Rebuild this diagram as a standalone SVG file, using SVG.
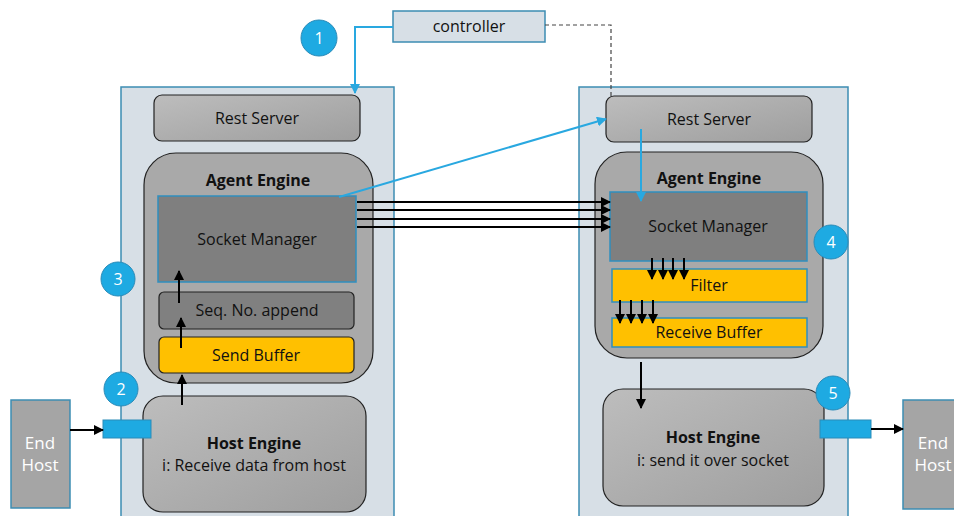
<svg xmlns="http://www.w3.org/2000/svg" width="954" height="516" viewBox="0 0 954 516">
  <defs>
    <linearGradient id="grey" x1="0" y1="0" x2="1" y2="1">
      <stop offset="0" stop-color="#bdbdbd"/>
      <stop offset="1" stop-color="#9e9e9e"/>
    </linearGradient>
    <marker id="ah" viewBox="0 0 10 10" refX="9" refY="5" markerWidth="5" markerHeight="5" orient="auto">
      <path d="M0,0 L10,5 L0,10 z" fill="#000"/>
    </marker>
    <marker id="ahb" viewBox="0 0 10 10" refX="9" refY="5" markerWidth="5" markerHeight="5" orient="auto">
      <path d="M0,0 L10,5 L0,10 z" fill="#29a8e0"/>
    </marker>
    <style>
      text { font-family: "Open Sans", "Liberation Sans", sans-serif; font-size: 16px; fill: #111; text-anchor: middle; }
      .b { font-weight: bold; }
      .w { fill: #fff; font-size: 17px; }
      .cont { fill: #d7dfe6; stroke: #3d8db3; stroke-width: 1.5; }
      .g { fill: url(#grey); stroke: #222; stroke-width: 1.2; }
      .ae { fill: #a9a9a9; stroke: #222; stroke-width: 1.2; }
      .sm { fill: #7f7f7f; stroke: #2f8fbf; stroke-width: 1.5; }
      .seq { fill: #808080; stroke: #222; stroke-width: 1.2; }
      .yl { fill: #ffc000; stroke: #222; stroke-width: 1.2; }
      .yb { fill: #ffc000; stroke: #2f8fbf; stroke-width: 1.5; }
      .port { fill: #1eaae2; stroke: #2b8bb8; stroke-width: 1; }
      .eh { fill: #a5a5a5; stroke: #3d8db3; stroke-width: 1.5; }
      .badge { fill: #1eaae2; stroke: #2b8bb8; stroke-width: 1; }
      .bt { fill: #fff; font-size: 16px; }
      .k { stroke: #000; stroke-width: 2; fill: none; marker-end: url(#ah); }
      .bl { stroke: #29a8e0; stroke-width: 2; fill: none; marker-end: url(#ahb); }
    </style>
  </defs>

  <!-- containers -->
  <g id="left-node">
    <rect class="cont" x="121" y="87" width="273" height="440"/>
  </g>
  <g id="right-node">
    <rect class="cont" x="579" y="87" width="269" height="440"/>
  </g>

  <!-- controller -->
  <g id="controller">
    <rect class="cont" x="393" y="11" width="152" height="31"/>
    <text x="469" y="32">controller</text>
  </g>

  <!-- left side -->
  <g id="rest-server-left">
    <rect class="g" x="154" y="95" width="206" height="46" rx="8"/>
    <text x="257" y="124">Rest Server</text>
  </g>
  <g id="agent-engine-left">
    <rect class="ae" x="144" y="153" width="229" height="230" rx="32"/>
    <text class="b" x="258" y="186">Agent Engine</text>
  </g>
  <g id="socket-manager-left">
    <rect class="sm" x="158" y="196" width="198" height="86"/>
    <text x="257" y="245">Socket Manager</text>
  </g>
  <g id="seq-append">
    <rect class="seq" x="159" y="292" width="195" height="37" rx="5"/>
    <text x="257" y="316">Seq. No. append</text>
  </g>
  <g id="send-buffer">
    <rect class="yl" x="159" y="337" width="195" height="36" rx="5"/>
    <text x="256" y="361">Send Buffer</text>
  </g>
  <g id="host-engine-left">
    <rect class="g" x="143" y="396" width="223" height="116" rx="20"/>
    <text class="b" x="254" y="449">Host Engine</text>
    <text x="254" y="471">i: Receive data from host</text>
  </g>
  <g id="port-left">
    <rect class="port" x="103" y="420" width="48" height="18"/>
  </g>
  <g id="end-host-left">
    <rect class="eh" x="11" y="400" width="59" height="108"/>
    <text class="w" x="40" y="449">End</text>
    <text class="w" x="40" y="471">Host</text>
  </g>

  <!-- right side -->
  <g id="rest-server-right">
    <rect class="g" x="606" y="96" width="206" height="46" rx="8"/>
    <text x="709" y="125">Rest Server</text>
  </g>
  <g id="agent-engine-right">
    <rect class="ae" x="595" y="152" width="228" height="206" rx="32"/>
    <text class="b" x="709" y="184">Agent Engine</text>
  </g>
  <g id="socket-manager-right">
    <rect class="sm" x="610" y="192" width="197" height="69"/>
    <text x="708" y="232">Socket Manager</text>
  </g>
  <g id="filter">
    <rect class="yb" x="612" y="269" width="195" height="33"/>
    <text x="709" y="291">Filter</text>
  </g>
  <g id="receive-buffer">
    <rect class="yb" x="612" y="318" width="195" height="29"/>
    <text x="709" y="338">Receive Buffer</text>
  </g>
  <g id="host-engine-right">
    <rect class="g" x="603" y="389" width="221" height="117" rx="20"/>
    <text class="b" x="713" y="443">Host Engine</text>
    <text x="713" y="466">i: send it over socket</text>
  </g>
  <g id="port-right">
    <rect class="port" x="820" y="420" width="51" height="18"/>
  </g>
  <g id="end-host-right">
    <rect class="eh" x="903" y="400" width="60" height="109"/>
    <text class="w" x="933" y="449">End</text>
    <text class="w" x="933" y="471">Host</text>
  </g>

  <!-- step badges -->
  <g id="badge-1"><circle class="badge" cx="319" cy="38" r="18"/><text class="bt" x="319" y="44">1</text></g>
  <g id="badge-2"><circle class="badge" cx="121" cy="389" r="17"/><text class="bt" x="121" y="395">2</text></g>
  <g id="badge-3"><circle class="badge" cx="118" cy="279" r="17"/><text class="bt" x="118" y="285">3</text></g>
  <g id="badge-4"><circle class="badge" cx="831" cy="242" r="17"/><text class="bt" x="831" y="248">4</text></g>
  <g id="badge-5"><circle class="badge" cx="833" cy="393" r="17"/><text class="bt" x="833" y="399">5</text></g>

  <!-- connectors -->
  <g id="connectors">
    <!-- controller links -->
    <path class="bl" d="M393,27 H355 V93"/>
    <path d="M545,25 H611 V98" stroke="#444" stroke-width="1.2" stroke-dasharray="4,3" fill="none"/>
    <!-- control path to remote rest server -->
    <path class="bl" d="M339,197 L606,119"/>
    <path class="bl" d="M641,129 V201"/>
    <!-- data streams between socket managers -->
    <path class="k" d="M357,202 H610"/>
    <path class="k" d="M357,210 H610"/>
    <path class="k" d="M357,219 H610"/>
    <path class="k" d="M357,227 H610"/>
    <!-- left upward flow -->
    <path class="k" d="M182,405 V375"/>
    <path class="k" d="M181,348 V318"/>
    <path class="k" d="M179,303 V271"/>
    <!-- right downward flow -->
    <path class="k" d="M652,258 V279"/>
    <path class="k" d="M663,258 V279"/>
    <path class="k" d="M673,258 V279"/>
    <path class="k" d="M684,258 V279"/>
    <path class="k" d="M620,300 V323"/>
    <path class="k" d="M631,300 V323"/>
    <path class="k" d="M642,300 V323"/>
    <path class="k" d="M653,300 V323"/>
    <path class="k" d="M641,362 V408"/>
    <!-- host links -->
    <path class="k" d="M70,430 H103"/>
    <path class="k" d="M871,429 H903"/>
  </g>
</svg>
